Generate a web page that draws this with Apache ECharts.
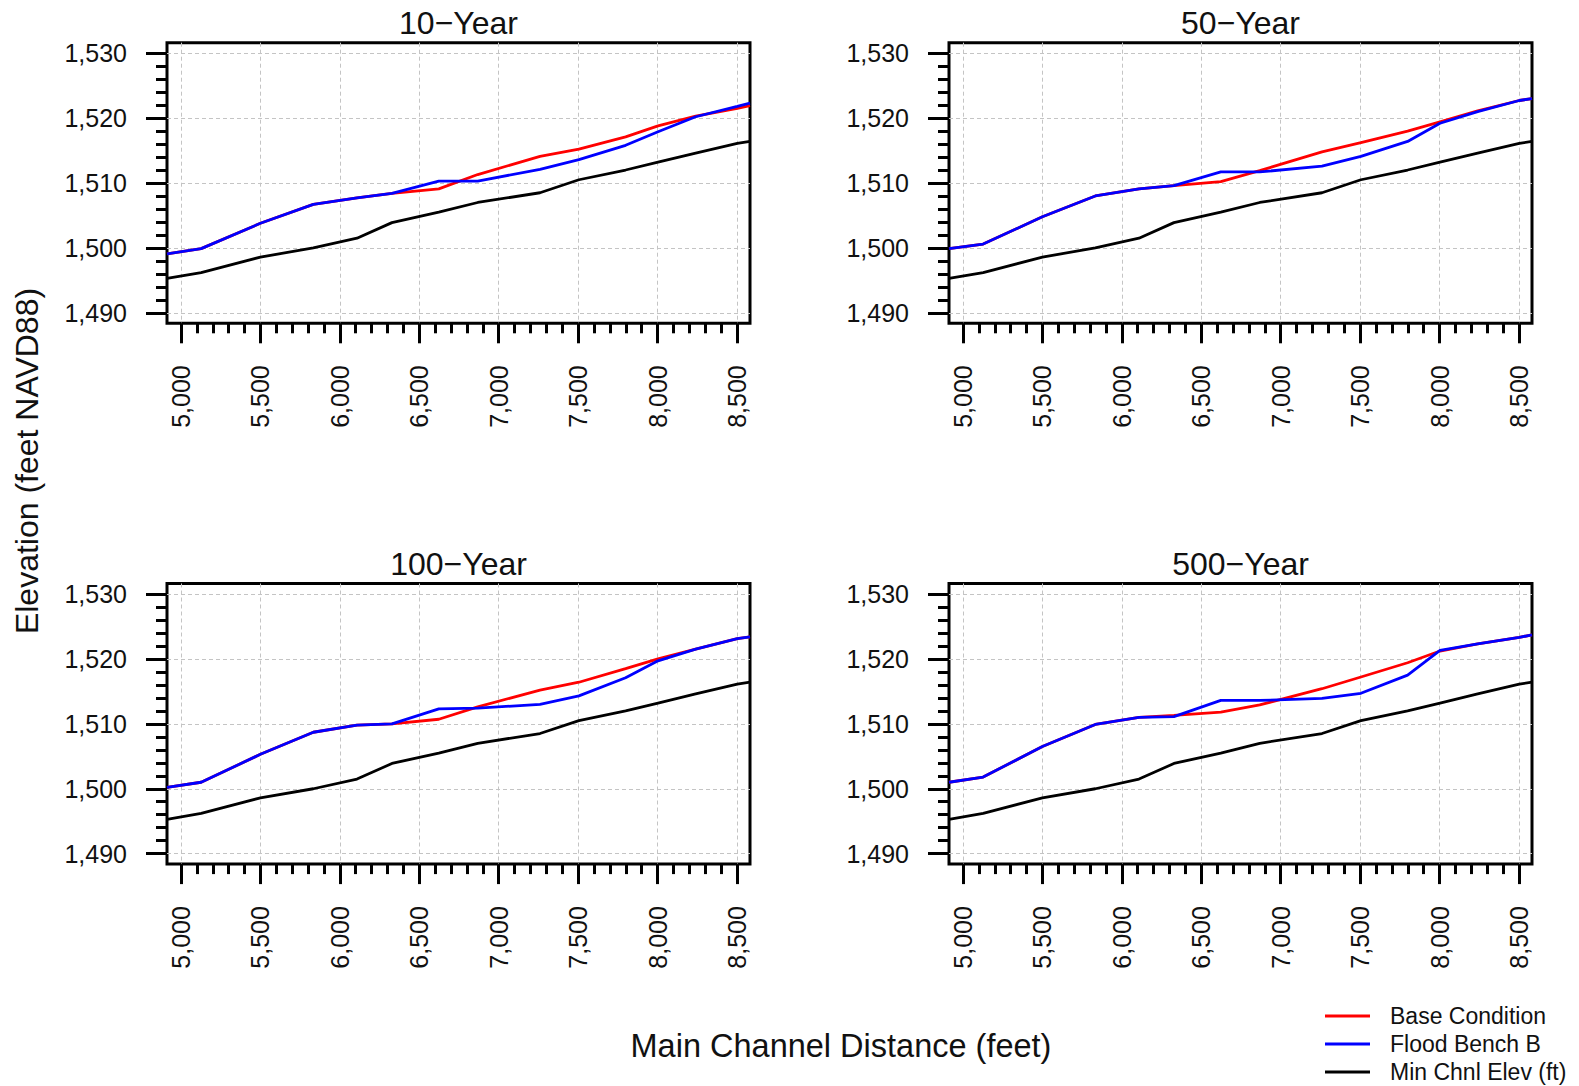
<!DOCTYPE html>
<html>
<head>
<meta charset="utf-8">
<script src="https://cdn.jsdelivr.net/npm/echarts@6/dist/echarts.min.js"></script>
<style>
html,body{margin:0;padding:0;background:#fff;}
#chart{width:1579px;height:1086px;}
</style>
</head>
<body>
<div id="chart"></div>
<script>
// ---- data ----
const stations = [4912, 5127, 5500, 5833, 6108, 6328, 6623, 6868, 7260, 7505, 7799, 8003, 8240, 8502, 8582];
const minChnlElev = [1495.3, 1496.2, 1498.6, 1500.0, 1501.5, 1503.9, 1505.5, 1507.0, 1508.5, 1510.5, 1512.0, 1513.2, 1514.6, 1516.1, 1516.4];

const base10   = [1499.1, 1499.9, 1503.8, 1506.7, 1507.7, 1508.4, 1509.1, 1511.3, 1514.1, 1515.2, 1517.1, 1518.8, 1520.3, 1521.5, 1521.9];
const bench10  = [1499.1, 1499.9, 1503.8, 1506.7, 1507.7, 1508.4, 1510.3, 1510.3, 1512.1, 1513.6, 1515.8, 1517.9, 1520.2, 1521.8, 1522.3];

const base50   = [1499.9, 1500.6, 1504.8, 1508.0, 1509.1, 1509.6, 1510.2, 1511.9, 1514.8, 1516.2, 1518.0, 1519.4, 1521.1, 1522.7, 1523.0];
const bench50  = [1499.9, 1500.6, 1504.8, 1508.0, 1509.1, 1509.6, 1511.7, 1511.7, 1512.6, 1514.1, 1516.4, 1519.2, 1521.0, 1522.7, 1523.0];

const base100  = [1500.2, 1501.0, 1505.3, 1508.7, 1509.8, 1510.0, 1510.7, 1512.6, 1515.2, 1516.4, 1518.5, 1520.0, 1521.5, 1523.1, 1523.4];
const bench100 = [1500.2, 1501.0, 1505.3, 1508.7, 1509.8, 1510.0, 1512.3, 1512.4, 1513.0, 1514.3, 1517.1, 1519.7, 1521.5, 1523.1, 1523.4];

const base500  = [1501.0, 1501.8, 1506.5, 1509.9, 1511.0, 1511.3, 1511.8, 1512.9, 1515.4, 1517.2, 1519.4, 1521.2, 1522.3, 1523.3, 1523.7];
const bench500 = [1501.0, 1501.8, 1506.5, 1509.9, 1511.0, 1511.1, 1513.6, 1513.6, 1513.9, 1514.7, 1517.5, 1521.3, 1522.3, 1523.3, 1523.7];

const panelTitles = ['10\u2212Year', '50\u2212Year', '100\u2212Year', '500\u2212Year'];
const panelBase  = [base10, base50, base100, base500];
const panelBench = [bench10, bench50, bench100, bench500];

const xMajorTicks = [5000, 5500, 6000, 6500, 7000, 7500, 8000, 8500];
const xMinorTicks = [5100, 5200, 5300, 5400, 5600, 5700, 5800, 5900, 6100, 6200, 6300, 6400,
                     6600, 6700, 6800, 6900, 7100, 7200, 7300, 7400, 7600, 7700, 7800, 7900,
                     8100, 8200, 8300, 8400];
const yMajorTicks = [1490, 1500, 1510, 1520, 1530];
const yMinorTicks = [1492, 1494, 1496, 1498, 1502, 1504, 1506, 1508, 1512, 1514, 1516, 1518,
                     1522, 1524, 1526, 1528];

const seriesNames = ['Base Condition', 'Flood Bench B', 'Min Chnl Elev (ft)'];
const seriesColors = ['#ff0000', '#0000ff', '#000000'];

// ---- layout ----
const FONT = 'Liberation Sans, Arial, Helvetica, sans-serif';
const TXT = '#111111';
const X_MIN = 4912, X_MAX = 8582, Y_MIN = 1488.4, Y_MAX = 1531.6;
const panelPos = [
  {left: 167, top: 42.7},
  {left: 949, top: 42.7},
  {left: 167, top: 583.5},
  {left: 949, top: 583.5}
];
const PW = 583, PH = 280.6;

const fmt = v => String(Math.round(v)).replace(/\B(?=(\d{3})+(?!\d))/g, ',');

const grids = [], xAxes = [], yAxes = [], series = [], graphics = [];
const gridLine = {show: true, lineStyle: {color: '#c4c4c4', width: 1, type: [4, 3]}};

panelPos.forEach((p, i) => {
  grids.push({left: p.left, top: p.top, width: PW, height: PH, show: true,
    borderColor: '#000', borderWidth: 3, backgroundColor: 'transparent', containLabel: false});
  // major x axis
  xAxes.push({type: 'value', gridIndex: i, min: X_MIN, max: X_MAX, position: 'bottom',
    axisLine: {show: false},
    axisTick: {show: true, customValues: xMajorTicks, length: 20, inside: false, lineStyle: {color: '#000', width: 3}},
    axisLabel: {show: true, customValues: xMajorTicks, rotate: 90, margin: 42, fontSize: 25, fontFamily: FONT, color: TXT, formatter: fmt},
    splitLine: gridLine});
  // minor x ticks
  xAxes.push({type: 'value', gridIndex: i, min: X_MIN, max: X_MAX, position: 'bottom',
    axisLine: {show: false},
    axisTick: {show: true, customValues: xMinorTicks, length: 10, inside: false, lineStyle: {color: '#000', width: 3}},
    axisLabel: {show: false}, splitLine: {show: false}});
  // major y axis
  yAxes.push({type: 'value', gridIndex: i, min: Y_MIN, max: Y_MAX, position: 'left',
    axisLine: {show: false},
    axisTick: {show: true, customValues: yMajorTicks, length: 21, inside: false, lineStyle: {color: '#000', width: 3}},
    axisLabel: {show: true, customValues: yMajorTicks, margin: 40, fontSize: 25, fontFamily: FONT, color: TXT, formatter: fmt},
    splitLine: gridLine});
  // minor y ticks
  yAxes.push({type: 'value', gridIndex: i, min: Y_MIN, max: Y_MAX, position: 'left',
    axisLine: {show: false},
    axisTick: {show: true, customValues: yMinorTicks, length: 11, inside: false, lineStyle: {color: '#000', width: 3}},
    axisLabel: {show: false}, splitLine: {show: false}});

  const lines = [panelBase[i], panelBench[i], minChnlElev];
  lines.forEach((vals, k) => {
    series.push({
      name: seriesNames[k], type: 'line', xAxisIndex: 2 * i, yAxisIndex: 2 * i,
      data: stations.map((s, j) => [s, vals[j]]),
      showSymbol: false, symbol: 'none', animation: false, clip: true,
      lineStyle: {color: seriesColors[k], width: 2.8},
      itemStyle: {color: seriesColors[k]},
      emphasis: {disabled: true}
    });
  });

  graphics.push({type: 'text', x: p.left + PW / 2, y: p.top - 19.5,
    style: {text: panelTitles[i], font: '32px ' + FONT, fill: TXT, textAlign: 'center', textVerticalAlign: 'middle'}});
});

graphics.push({type: 'text', x: 27, y: 461, rotation: Math.PI / 2,
  style: {text: 'Elevation (feet NAVD88)', font: '32px ' + FONT, fill: TXT, textAlign: 'center', textVerticalAlign: 'middle'}});
graphics.push({type: 'text', x: 841, y: 1045.5,
  style: {text: 'Main Channel Distance (feet)', font: '32.5px ' + FONT, fill: TXT, textAlign: 'center', textVerticalAlign: 'middle'}});

const chart = echarts.init(document.getElementById('chart'), null, {renderer: 'svg'});
chart.setOption({
  backgroundColor: '#ffffff',
  animation: false,
  grid: grids,
  xAxis: xAxes,
  yAxis: yAxes,
  series: series,
  legend: {
    orient: 'vertical', left: 1325, top: 1002, padding: 0, itemGap: 0,
    itemWidth: 45, itemHeight: 3, icon: 'rect', selectedMode: false,
    data: seriesNames,
    textStyle: {fontSize: 23, fontFamily: FONT, color: TXT, lineHeight: 28, padding: [0, 0, 0, 15]}
  },
  graphic: graphics
});
</script>
</body>
</html>
